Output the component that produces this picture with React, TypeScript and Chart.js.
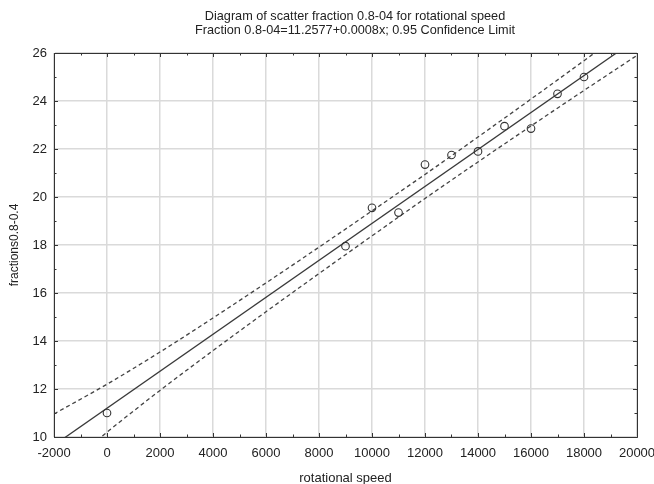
import React, { useEffect, useRef } from "react";
import { Chart, registerables } from "chart.js";

Chart.register(...registerables);

const titleLines = [
  "Diagram of scatter fraction 0.8-04 for rotational speed",
  "Fraction 0.8-04=11.2577+0.0008x; 0.95 Confidence Limit",
];
const xAxisTitle = "rotational speed";
const yAxisTitle = "fractions0.8-0.4";

const speedValues = [0, 9000, 10000, 11000, 12000, 13000, 14000, 15000, 16000, 17000, 18000];
const fractionValues = [11.0, 17.95, 19.55, 19.35, 21.35, 21.75, 21.9, 22.95, 22.85, 24.3, 25.0];

const fitX = [-2000, 20000];
const fitY = [9.66, 26.6];

const bandX = [-2000, 0, 2000, 4000, 6000, 8000, 10000, 12000, 14000, 16000, 18000, 20000];
const upperBand = [10.96, 12.2, 13.54, 14.96, 16.42, 17.91, 19.42, 20.94, 22.5, 24.08, 25.68, 27.3];
const lowerBand = [8.36, 10.2, 11.94, 13.6, 15.22, 16.81, 18.38, 19.94, 21.46, 22.96, 24.44, 25.9];

const xMin = -2000;
const xMax = 20000;
const xStep = 2000;
const yMin = 10;
const yMax = 26;
const yStep = 2;

const FONT = "'Liberation Sans', Arial, sans-serif";

const framePlugin = {
  id: "frameAndText",
  afterDraw(chart: any) {
    const { ctx, chartArea, scales } = chart;
    const xs = scales.x;
    const ys = scales.y;
    ctx.save();
    ctx.strokeStyle = "#333";
    ctx.lineWidth = 1;
    ctx.beginPath();
    ctx.rect(chartArea.left + 0.5, chartArea.top + 0.5, chartArea.right - chartArea.left, chartArea.bottom - chartArea.top);
    ctx.stroke();
    ctx.beginPath();
    for (let v = xMin; v <= xMax; v += xStep / 2) {
      const px = Math.round(xs.getPixelForValue(v)) + 0.5;
      const len = (v - xMin) % xStep === 0 ? 4 : 2.5;
      ctx.moveTo(px, chartArea.bottom);
      ctx.lineTo(px, chartArea.bottom - len);
      ctx.moveTo(px, chartArea.top);
      ctx.lineTo(px, chartArea.top + len);
    }
    for (let v = yMin; v <= yMax; v += yStep / 2) {
      const py = Math.round(ys.getPixelForValue(v)) + 0.5;
      const len = (v - yMin) % yStep === 0 ? 4 : 2.5;
      ctx.moveTo(chartArea.left, py);
      ctx.lineTo(chartArea.left + len, py);
      ctx.moveTo(chartArea.right, py);
      ctx.lineTo(chartArea.right - len, py);
    }
    ctx.stroke();
    ctx.fillStyle = "#222";
    ctx.textAlign = "center";
    ctx.textBaseline = "middle";
    ctx.font = `12.7px ${FONT}`;
    ctx.fillText(titleLines[0], 355, 16);
    ctx.fillText(titleLines[1], 355, 30);
    ctx.font = `13px ${FONT}`;
    ctx.fillText(xAxisTitle, (chartArea.left + chartArea.right) / 2, 478);
    ctx.translate(15, 245);
    ctx.rotate(-Math.PI / 2);
    ctx.font = `12px ${FONT}`;
    ctx.fillText(yAxisTitle, 0, 0);
    ctx.restore();
  },
};

export default function App() {
  const ref = useRef<HTMLCanvasElement | null>(null);

  useEffect(() => {
    if (!ref.current) return;
    const chart = new Chart(ref.current, {
      type: "scatter",
      data: {
        datasets: [
          {
            label: "observed",
            data: speedValues.map((x, i) => ({ x, y: fractionValues[i] })),
            pointRadius: 3.8,
            pointBorderWidth: 1.1,
            pointBorderColor: "#333",
            pointBackgroundColor: "rgba(255,255,255,0)",
            showLine: false,
            order: 0,
          },
          {
            label: "fit",
            data: fitX.map((x, i) => ({ x, y: fitY[i] })),
            showLine: true,
            pointRadius: 0,
            borderColor: "#3a3a3a",
            borderWidth: 1.3,
            clip: 0,
            order: 1,
          },
          {
            label: "upper",
            data: bandX.map((x, i) => ({ x, y: upperBand[i] })),
            showLine: true,
            pointRadius: 0,
            borderColor: "#444",
            borderWidth: 1.3,
            borderDash: [4, 3],
            cubicInterpolationMode: "monotone",
            clip: 0,
            order: 2,
          },
          {
            label: "lower",
            data: bandX.map((x, i) => ({ x, y: lowerBand[i] })),
            showLine: true,
            pointRadius: 0,
            borderColor: "#444",
            borderWidth: 1.3,
            borderDash: [4, 3],
            cubicInterpolationMode: "monotone",
            clip: 0,
            order: 3,
          },
        ],
      },
      options: {
        responsive: false,
        animation: false,
        layout: { padding: { top: 53, right: 17, left: 0, bottom: 0 } },
        plugins: {
          legend: { display: false },
          tooltip: { enabled: false },
          title: { display: false },
        },
        scales: {
          x: {
            type: "linear",
            min: xMin,
            max: xMax,
            ticks: {
              stepSize: xStep,
              padding: 9,
              color: "#222",
              font: { family: FONT, size: 13 },
              maxRotation: 0,
              autoSkip: false,
              callback: (v: any) => String(v),
            },
            grid: { color: "#dadada", lineWidth: 1.5, drawTicks: false },
            border: { display: true, color: "#333", width: 1 },
            afterFit(scale: any) {
              scale.height = 47;
              scale.paddingRight = 0;
              scale.paddingLeft = 0;
            },
          },
          y: {
            type: "linear",
            min: yMin,
            max: yMax,
            ticks: {
              stepSize: yStep,
              padding: 7,
              color: "#222",
              font: { family: FONT, size: 13 },
              callback: (v: any) => String(v),
            },
            grid: { color: "#dadada", lineWidth: 1.5, drawTicks: false },
            border: { display: true, color: "#333", width: 1 },
            afterFit(scale: any) {
              scale.width = 54;
              scale.paddingTop = 0;
              scale.paddingBottom = 0;
            },
          },
        },
      },
      plugins: [framePlugin],
    });
    return () => chart.destroy();
  }, []);

  return (
    <div style={{ position: "fixed", left: 0, top: 0, width: 654, height: 484, background: "#fff" }}>
      <canvas ref={ref} width={654} height={484} style={{ display: "block", width: 654, height: 484 }} />
    </div>
  );
}
